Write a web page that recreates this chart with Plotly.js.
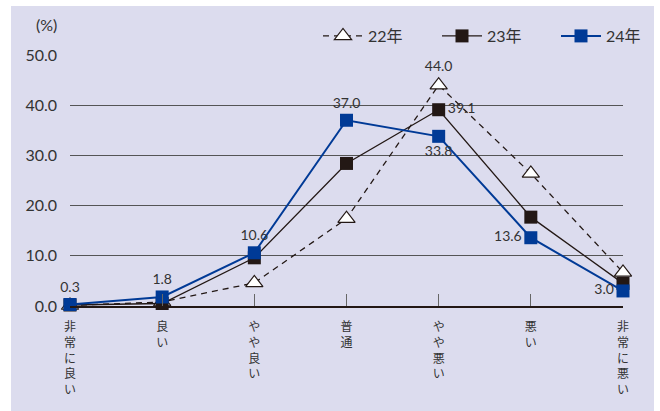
<!DOCTYPE html>
<html>
<head>
<meta charset="utf-8">
<script src="https://cdn.plot.ly/plotly-3.0.1.min.js"></script>
<style>
  html, body { margin: 0; padding: 0; background: #ffffff; }
  #chart { width: 660px; height: 411px; }
</style>
</head>
<body>
<div id="chart"></div>
<script>
// Survey categories (stacked vertically under the axis)
const categories = ['非常に良い', '良い', 'やや良い', '普通', 'やや悪い', '悪い', '非常に悪い'];

// Shares by year (%)
const values22 = [0.1, 0.8, 4.6, 17.4, 44.0, 26.4, 6.7];
const values23 = [0.2, 0.5, 9.6, 28.4, 39.1, 17.7, 4.5];
const values24 = [0.3, 1.8, 10.6, 37.0, 33.8, 13.6, 3.0];

// Which points carry a value label
const labeled22 = [false, false, false, false, true, false, false];
const labeled23 = [false, false, false, false, true, false, false];
const labeled24 = [true, true, true, true, true, true, true];

const yTicks = [0, 10, 20, 30, 40, 50];

const INK = '#231815';
const BLUE = '#003a96';
const TEXT = '#333333';
const FONT = 'Lato, "Noto Sans CJK JP", sans-serif';

const idx = categories.map((_, i) => i);
const vertical = s => Array.from(s).join('<br>');
const labelsOf = (vals, flags) => vals.map((v, i) => flags[i] ? v.toFixed(1) : '');

const traces = [
  {
    name: '22年', x: idx, y: values22, type: 'scatter', mode: 'lines+markers+text',
    line: { color: INK, width: 1.3, dash: '6px,5px' },
    marker: { symbol: 'triangle-up', size: 15, color: '#ffffff', line: { color: INK, width: 1.2 } },
    text: labelsOf(values22, labeled22), textposition: 'top center',
    textfont: { size: 14, color: TEXT, family: FONT },
    cliponaxis: false
  },
  {
    name: '23年', x: idx, y: values23, type: 'scatter', mode: 'lines+markers+text',
    line: { color: INK, width: 1.3 },
    marker: { symbol: 'square', size: 13, color: INK },
    text: labelsOf(values23, labeled23), textposition: 'middle right',
    textfont: { size: 14, color: TEXT, family: FONT },
    cliponaxis: false
  },
  {
    name: '24年', x: idx, y: values24, type: 'scatter', mode: 'lines+markers+text',
    line: { color: BLUE, width: 2 },
    marker: { symbol: 'square', size: 13, color: BLUE },
    text: labelsOf(values24, labeled24),
    textposition: ['top center', 'top center', 'top center', 'top center', 'bottom center', 'middle left', 'middle left'],
    textfont: { size: 14, color: TEXT, family: FONT },
    cliponaxis: false
  }
];

const layout = {
  width: 660, height: 411,
  margin: { l: 70, r: 37, t: 55, b: 105 },
  paper_bgcolor: '#ffffff',
  plot_bgcolor: 'rgba(0,0,0,0)',
  font: { family: FONT, color: TEXT },
  showlegend: true,
  legend: {
    orientation: 'h', xref: 'container', yref: 'container',
    x: 318 / 660, y: 1 - 36 / 411, xanchor: 'left', yanchor: 'middle',
    bgcolor: 'rgba(0,0,0,0)', font: { size: 16, color: TEXT, family: FONT },
    itemwidth: 40, entrywidth: 64, entrywidthmode: 'pixels', traceorder: 'normal'
  },
  xaxis: {
    type: 'linear', range: [0, 6], tickvals: idx, ticktext: categories.map(vertical),
    showgrid: false, zeroline: false,
    showline: true, linecolor: INK, linewidth: 2,
    ticks: 'inside', ticklen: 12, tickwidth: 1, tickcolor: '#666666',
    tickfont: { size: 12, color: TEXT, family: FONT },
    ticklabelstandoff: 9, fixedrange: true
  },
  yaxis: {
    range: [0, 50], tickvals: yTicks, ticktext: yTicks.map(v => v.toFixed(1)),
    showgrid: true, gridcolor: '#555555', gridwidth: 1,
    zeroline: false, showline: false, ticks: '',
    tickfont: { size: 16, color: TEXT, family: FONT },
    ticklabelstandoff: 12, fixedrange: true
  },
  shapes: [{
    type: 'rect', xref: 'paper', yref: 'paper', layer: 'below',
    x0: (11 - 70) / 553, x1: (654 - 70) / 553,
    y0: -105 / 251, y1: (306 - 6) / 251,
    fillcolor: '#dcdcee', line: { width: 0 }
  }],
  annotations: [{
    text: '(%)', xref: 'paper', yref: 'paper',
    x: (46 - 70) / 553, y: (306 - 24) / 251, xanchor: 'center', yanchor: 'middle',
    showarrow: false, font: { size: 16, color: TEXT, family: FONT }
  }]
};

Plotly.newPlot('chart', traces, layout, { displayModeBar: false, staticPlot: true });
</script>
</body>
</html>
